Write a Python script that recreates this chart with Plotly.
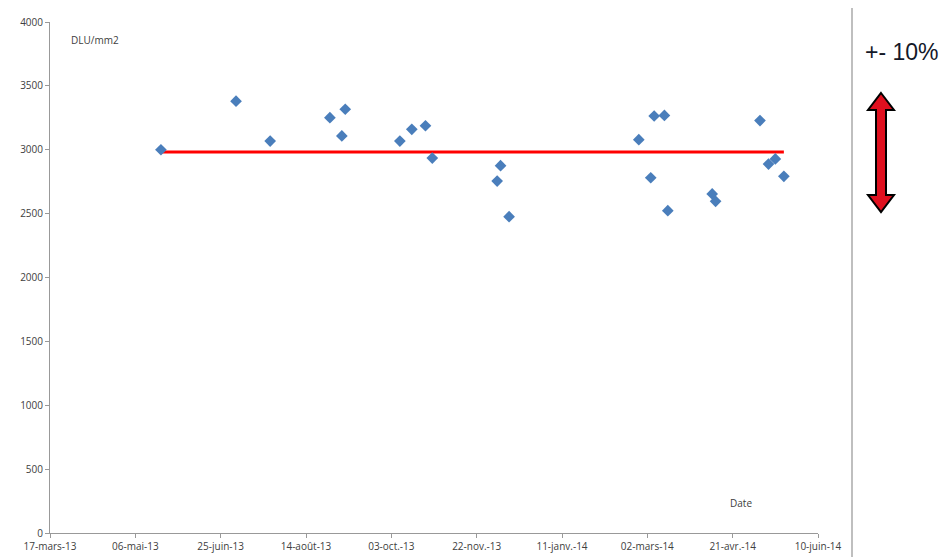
import plotly.graph_objects as go

# ---- data ----
dates = ["2013-05-21", "2013-07-04", "2013-07-24", "2013-08-28", "2013-09-04", "2013-09-06",
         "2013-10-08", "2013-10-15", "2013-10-23", "2013-10-27",
         "2013-12-04", "2013-12-06", "2013-12-11",
         "2014-02-25", "2014-03-04", "2014-03-06", "2014-03-12", "2014-03-14",
         "2014-04-09", "2014-04-11", "2014-05-07", "2014-05-12", "2014-05-16", "2014-05-21"]
values = [3000, 3380, 3068, 3251, 3108, 3317,
          3068, 3160, 3188, 2935,
          2755, 2875, 2476,
          3079, 2781, 3264, 3269, 2523,
          2654, 2596, 3228, 2888, 2928, 2792]
mean_dates = ["2013-05-21", "2014-05-21"]
mean_values = [2983, 2983]

tick_dates = ["2013-03-17", "2013-05-06", "2013-06-25", "2013-08-14", "2013-10-03",
              "2013-11-22", "2014-01-11", "2014-03-02", "2014-04-21", "2014-06-10"]
tick_labels = ["17-mars-13", "06-mai-13", "25-juin-13", "14-août-13", "03-oct.-13",
               "22-nov.-13", "11-janv.-14", "02-mars-14", "21-avr.-14", "10-juin-14"]
y_ticks = [0, 500, 1000, 1500, 2000, 2500, 3000, 3500, 4000]

# page is rendered with an 8px body margin
OFF = 8
W, H = 950 - OFF, 557 - OFF
# plot area in page pixels: x 50..818, y 22..533
L = 50 - OFF
T = 22 - OFF
R = W - (818 - OFF)
B = H - (533 - OFF)
PW, PH = W - L - R, H - T - B


def px(x):
    return (x - OFF - L) / PW


def py(y):
    return (H - B - (y - OFF)) / PH


fig = go.Figure()
fig.add_trace(go.Scatter(x=mean_dates, y=mean_values, mode="lines",
                         line=dict(color="#FF0000", width=3), hoverinfo="skip",
                         showlegend=False))
fig.add_trace(go.Scatter(x=dates, y=values, mode="markers",
                         marker=dict(symbol="diamond", size=9, color="#4A7EBB"),
                         showlegend=False))

# double arrow (page pixel outline)
pts = [(881, 93), (894, 110), (886, 110), (886, 195), (894, 195), (881, 212),
       (868, 195), (876, 195), (876, 110), (868, 110)]
path = "M " + " L ".join(f"{px(x):.5f},{py(y):.5f}" for x, y in pts) + " Z"

fig.update_layout(
    width=W, height=H,
    margin=dict(l=L, r=R, t=T, b=B, autoexpand=False),
    paper_bgcolor="white", plot_bgcolor="white",
    font=dict(family="Open Sans, Liberation Sans, sans-serif", size=10, color="#404040"),
    xaxis=dict(type="date", range=["2013-03-17", "2014-06-10"],
               tickvals=tick_dates, ticktext=tick_labels, automargin=False,
               showgrid=False, zeroline=False, showline=True, linecolor="#999999",
               ticks="outside", ticklen=4, tickcolor="#999999",
               tickfont=dict(size=10, color="#404040")),
    yaxis=dict(range=[0, 4000], tickvals=y_ticks, showgrid=False, zeroline=False,
               automargin=False,
               showline=True, linecolor="#999999", ticks="outside", ticklen=4,
               tickcolor="#999999", tickfont=dict(size=10, color="#404040")),
    shapes=[
        dict(type="line", xref="paper", yref="paper", x0=px(852), x1=px(852),
             y0=py(557), y1=py(5), line=dict(color="#AAAAAA", width=1.5)),
        dict(type="path", xref="paper", yref="paper", path=path,
             fillcolor="#E0101F", line=dict(color="black", width=2)),
    ],
    annotations=[
        dict(text="DLU/mm2", xref="paper", yref="paper", x=px(69), y=py(40),
             xanchor="left", yanchor="middle", showarrow=False,
             font=dict(size=10, color="#404040")),
        dict(text="Date", xref="paper", yref="paper", x=px(728), y=py(503),
             xanchor="left", yanchor="middle", showarrow=False,
             font=dict(size=10, color="#404040")),
        dict(text="+- 10%", xref="paper", yref="paper", x=px(863), y=py(52),
             xanchor="left", yanchor="middle", showarrow=False,
             font=dict(family="Liberation Sans, Arial, sans-serif", size=23, color="#141828")),
    ],
)

fig.write_html("out.html")
